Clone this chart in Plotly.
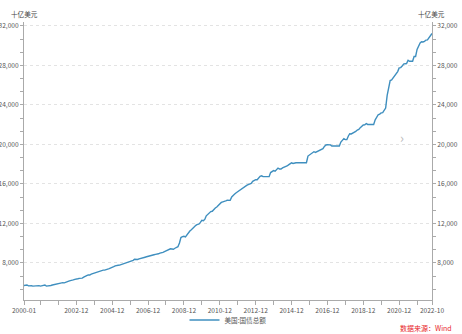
import plotly.graph_objects as go
import pandas as pd

# Monthly US total public debt outstanding (billion USD), 2000-01 .. 2022-10
debt_2000 = [5711, 5735, 5773, 5685, 5648, 5686, 5660, 5677, 5674, 5657, 5702, 5662]
debt_2001 = [5716, 5735, 5774, 5661, 5656, 5727, 5719, 5769, 5807, 5815, 5888, 5943]
debt_2002 = [5937, 6004, 6006, 5984, 6019, 6126, 6159, 6210, 6228, 6282, 6343, 6405]
debt_2003 = [6401, 6445, 6461, 6460, 6558, 6670, 6712, 6790, 6783, 6872, 6925, 6998]
debt_2004 = [7007, 7091, 7131, 7164, 7212, 7274, 7279, 7364, 7379, 7429, 7525, 7596]
debt_2005 = [7628, 7713, 7776, 7771, 7777, 7836, 7864, 7954, 7933, 8027, 8092, 8170]
debt_2006 = [8197, 8270, 8371, 8343, 8356, 8420, 8444, 8507, 8507, 8584, 8625, 8680]
debt_2007 = [8707, 8783, 8849, 8834, 8874, 8867, 8932, 9005, 9008, 9079, 9149, 9229]
debt_2008 = [9238, 9332, 9437, 9413, 9385, 9492, 9585, 9645, 10025, 10574, 10662, 10700]
debt_2009 = [10632, 10878, 11127, 11238, 11366, 11545, 11669, 11812, 11910, 11935, 12111, 12311]
debt_2010 = [12278, 12440, 12773, 12948, 13050, 13202, 13233, 13450, 13562, 13668, 13861, 14025]
debt_2011 = [14131, 14195, 14270, 14290, 14343, 14343, 14342, 14684, 14790, 14974, 15111, 15223]
debt_2012 = [15356, 15491, 15582, 15693, 15771, 15856, 15934, 16016, 16066, 16261, 16370, 16432]
debt_2013 = [16433, 16687, 16771, 16828, 16738, 16738, 16738, 16738, 16738, 17156, 17217, 17352]
debt_2014 = [17293, 17463, 17602, 17509, 17517, 17633, 17688, 17749, 17824, 17937, 18005, 18141]
debt_2015 = [18082, 18156, 18152, 18153, 18153, 18152, 18151, 18151, 18151, 18153, 18827, 18922]
debt_2016 = [19013, 19126, 19265, 19188, 19264, 19381, 19428, 19511, 19573, 19806, 19949, 19977]
debt_2017 = [19938, 19959, 19846, 19846, 19846, 19845, 19845, 19844, 20245, 20442, 20590, 20493]
debt_2018 = [20494, 20856, 21090, 21068, 21145, 21195, 21313, 21458, 21516, 21702, 21850, 21974]
debt_2019 = [21982, 22115, 22028, 22027, 22027, 22023, 22023, 22491, 22719, 23009, 23076, 23201]
debt_2020 = [23223, 23410, 23686, 24974, 25746, 26477, 26525, 26729, 26945, 27167, 27376, 27748]
debt_2021 = [27783, 27935, 28133, 28179, 28194, 28529, 28428, 28430, 28428, 28908, 28909, 29617]
debt_2022 = [30010, 30290, 30401, 30373, 30436, 30569, 30595, 30818, 30929, 31238]

debt = (debt_2000 + debt_2001 + debt_2002 + debt_2003 + debt_2004 + debt_2005 +
        debt_2006 + debt_2007 + debt_2008 + debt_2009 + debt_2010 + debt_2011 +
        debt_2012 + debt_2013 + debt_2014 + debt_2015 + debt_2016 + debt_2017 +
        debt_2018 + debt_2019 + debt_2020 + debt_2021 + debt_2022)
months = pd.date_range("2000-01-01", periods=len(debt), freq="MS")

x_tick_vals = ["2000-01-01", "2002-12-01", "2004-12-01", "2006-12-01", "2008-12-01",
               "2010-12-01", "2012-12-01", "2014-12-01", "2016-12-01", "2018-12-01",
               "2020-12-01", "2022-10-01"]
x_tick_text = ["2000-01", "2002-12", "2004-12", "2006-12", "2008-12", "2010-12",
               "2012-12", "2014-12", "2016-12", "2018-12", "2020-12", "2022-10"]
y_tick_vals = [8000, 12000, 16000, 20000, 24000, 28000, 32000]

series_name = "美国:国债总额"
unit = "十亿美元"
source = "数据来源：Wind"

FONT = "Noto Sans CJK SC, Noto Sans, sans-serif"
LINE = "#3f8fbf"
AX = "#aaaaaa"
TF = dict(size=6.6, color="#555", family=FONT)

fig = go.Figure()
fig.add_trace(go.Scatter(x=months, y=debt, mode="lines", name=series_name,
                         line=dict(color=LINE, width=1.4), yaxis="y"))
fig.add_trace(go.Scatter(x=months, y=debt, mode="lines", name=series_name,
                         line=dict(color=LINE, width=1.4), yaxis="y2",
                         showlegend=False, opacity=0, hoverinfo="skip"))

yax = dict(range=[4250, 32400], tickvals=y_tick_vals, tickformat=",",
           showline=True, linecolor=AX, linewidth=1, ticks="outside",
           ticklen=3, tickcolor=AX, tickfont=TF,
           zeroline=False, automargin=False,
           minor=dict(dtick=4000/3, tick0=0, ticks="outside", ticklen=3, tickcolor=AX))

fig.update_layout(
    width=462, height=334,
    margin=dict(l=24, r=30, t=22, b=34),
    paper_bgcolor="white", plot_bgcolor="white",
    font=dict(family=FONT, size=7, color="#555"),
    xaxis=dict(type="date", range=["2000-01-01", "2022-10-01"],
               tickvals=x_tick_vals, ticktext=x_tick_text, automargin=False,
               showline=True, linecolor=AX, ticks="outside", ticklen=4, tickcolor=AX,
               showgrid=False, tickfont=TF,
               minor=dict(dtick="M12", tick0="2000-12-01", ticks="outside",
                          ticklen=4, tickcolor=AX, showgrid=False)),
    yaxis=dict(side="left", showgrid=True, gridcolor="#e3e3e3", griddash="dot", **yax),
    yaxis2=dict(side="right", overlaying="y", showgrid=False, **yax),
    legend=dict(orientation="h", x=0.5, xanchor="center",
                yref="container", y=0.042, yanchor="middle",
                bgcolor="rgba(0,0,0,0)",
                font=dict(size=6.6, color="#555", family=FONT)),
    showlegend=True,
)

fig.add_annotation(text=unit, xref="paper", yref="paper", x=0.002, y=1.03,
                   xanchor="center", yanchor="middle", showarrow=False,
                   font=dict(size=6.6, color="#444", family=FONT))
fig.add_annotation(text=unit, xref="paper", yref="paper", x=0.998, y=1.03,
                   xanchor="center", yanchor="middle", showarrow=False,
                   font=dict(size=6.6, color="#444", family=FONT))
fig.add_annotation(text=source, xref="paper", yref="paper", x=1.054, y=-0.10,
                   xanchor="right", yanchor="middle", showarrow=False,
                   font=dict(size=7, color="#e8262a", family=FONT))
fig.add_annotation(text="›", xref="paper", yref="paper", x=0.926, y=0.586,
                   xanchor="center", yanchor="middle", showarrow=False,
                   font=dict(size=13, color="#bbbbbb", family=FONT))

fig.write_html("out.html")
